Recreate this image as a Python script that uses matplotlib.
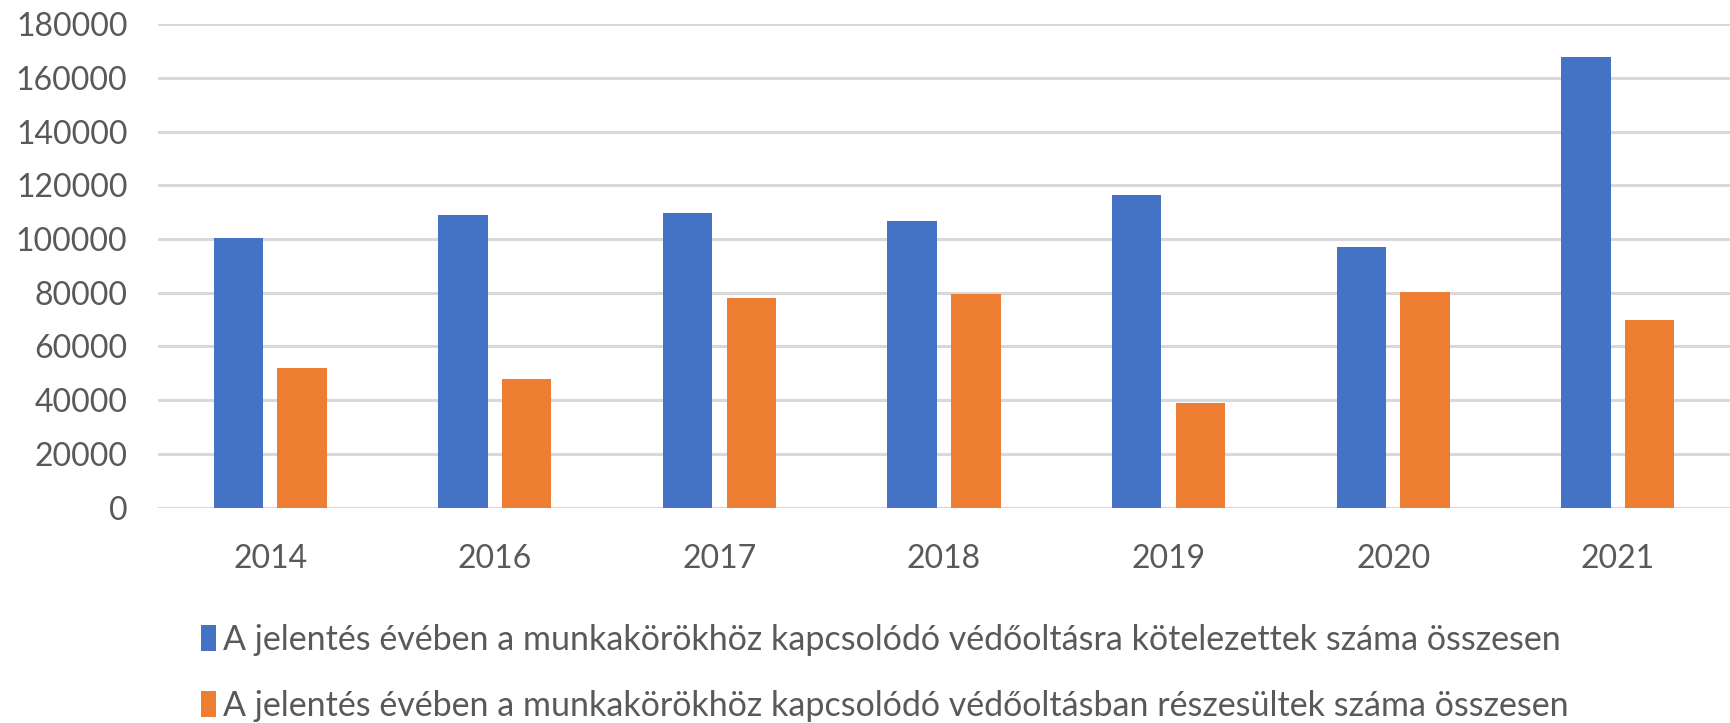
import numpy as np
import matplotlib as mpl
mpl.use('Agg')
import matplotlib.pyplot as plt

years = ['2014', '2016', '2017', '2018', '2019', '2020', '2021']
kotelezett = [100300, 108900, 109700, 106700, 116300, 97200, 168000]
reszesult = [52100, 47700, 78000, 79400, 39000, 80100, 69900]
labels = ['A jelentés évében a munkakörökhöz kapcsolódó védőoltásra kötelezettek száma összesen',
          'A jelentés évében a munkakörökhöz kapcsolódó védőoltásban részesültek száma összesen']
yticks = np.arange(0, 180001, 20000)

plt.rcParams['font.family'] = ['Lato', 'DejaVu Sans']
txt = '#595959'

fig = plt.figure(figsize=(17.3, 7.23), dpi=100)
ax = fig.add_axes([0.0913, 0.298, 0.9087, 0.6684])

x = np.arange(len(years))
w = 0.22
off = 0.142
ax.bar(x - off, kotelezett, w, color='#4472C4', label=labels[0], zorder=3)
ax.bar(x + off, reszesult, w, color='#ED7D31', label=labels[1], zorder=3)

ax.set_xlim(-0.5, len(years) - 0.5)
ax.set_ylim(0, 180000)
ax.set_yticks(yticks)
ax.set_yticklabels([str(v) for v in yticks])
ax.set_xticks(x)
ax.set_xticklabels(years)
ax.tick_params(axis='both', length=0, labelsize=23, colors=txt)
ax.tick_params(axis='y', pad=22)
ax.tick_params(axis='x', pad=26)
ax.grid(axis='y', color='#D9D9D9', linewidth=2.2, zorder=0)
for s in ax.spines.values():
    s.set_visible(False)

fig.legend(loc='upper left', bbox_to_anchor=(0.116, 0.137), frameon=False,
           fontsize=24.5, labelcolor=txt, handlelength=0.45, handleheight=0.8,
           handletextpad=0.2, labelspacing=1.0, borderpad=0, borderaxespad=0)

fig.savefig('out.png', dpi=100)
